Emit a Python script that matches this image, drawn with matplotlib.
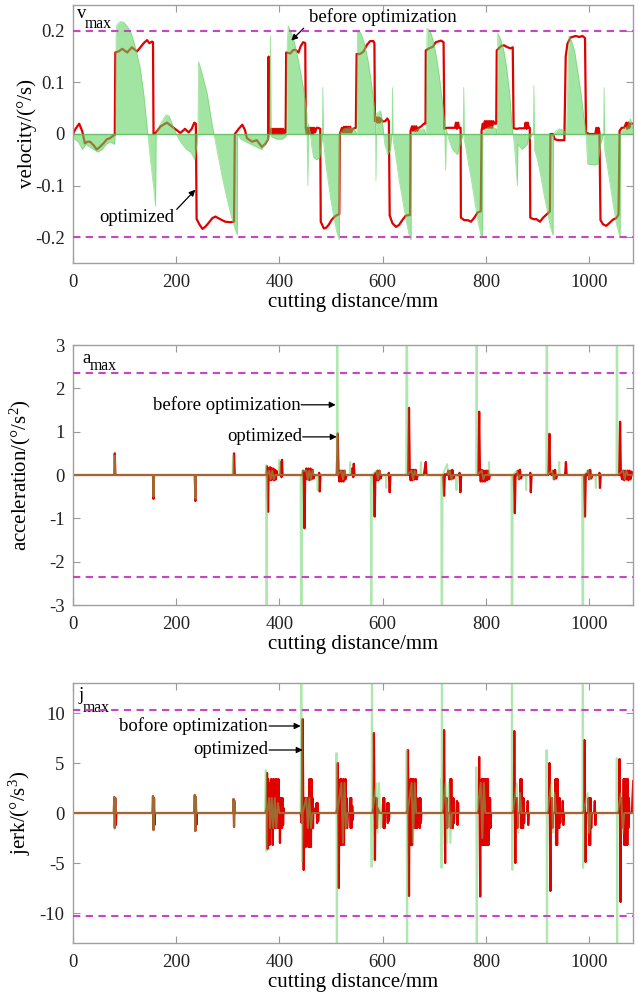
import matplotlib
matplotlib.use('Agg')
import numpy as np
import matplotlib.pyplot as plt

plt.rcParams['font.family'] = ['Liberation Serif', 'DejaVu Serif']
plt.rcParams['mathtext.fontset'] = 'custom'
plt.rcParams['mathtext.rm'] = 'Liberation Serif'
plt.rcParams['mathtext.it'] = 'Liberation Serif:italic'
plt.rcParams['axes.unicode_minus'] = False

# ---- velocity (deg/s) vs cutting distance (mm) ----
vel_opt = [
    (0, 0), (5, 0.01), (12, 0.02), (18, 0.005), (23, -0.018), (28, -0.015), (33, -0.015), (40, -0.022),
    (46, -0.03), (52, -0.025), (59, -0.018), (66, -0.01), (72, -0.008), (78, -0.003), (81, -0.002),
    (82, 0.158), (88, 0.16), (95.5, 0.165), (105, 0.158), (114, 0.168), (124, 0.16), (130.5, 0.168),
    (137, 0.176), (143.5, 0.182), (148, 0.176), (153, 0.179), (155, 0.178),
    (156, 0.0), (160, 0.002), (170, 0.015), (182, 0.022), (190, 0.016), (195, 0.012), (208, 0.002),
    (217, 0.01), (224, 0.003), (230, 0.01), (235, 0.022), (238, 0.02),
    (239.5, -0.165), (246, -0.177), (251, -0.184), (256, -0.18), (263, -0.172), (270, -0.163), (276, -0.16),
    (285, -0.165), (295, -0.17), (305, -0.171), (312, -0.17),
    (313.5, 0.0), (321, 0.01), (328, 0.018), (333, 0.008), (337, -0.008), (347, -0.015), (356, -0.012),
    (366, -0.025), (372, -0.02), (378, -0.01),
    (379, 0.15), (380, 0.0), (383, 0.01), (385, 0.0), (387, 0.01), (389, 0.0), (391, 0.01), (393, 0.0),
    (395, 0.01), (397, 0.0), (399, 0.01), (401, 0.0), (403, 0.01), (405, 0.0), (407, 0.01), (409, 0.002),
    (412, 0.003),
    (413, 0.158), (421, 0.156), (427, 0.163), (431, 0.163), (437, 0.158), (441, 0.17), (446, 0.178), (450, 0.176),
    (451, 0.012), (453, 0.0), (455, 0.012), (457, 0.0), (459, 0.012), (461, 0.0), (463, 0.012), (465, 0.0),
    (467, 0.012), (469, 0.003), (472, 0.012), (475, 0.012), (479, 0.01),
    (480, -0.17), (486, -0.183), (490, -0.182), (495.5, -0.176), (500, -0.168), (505, -0.162), (510, -0.158),
    (516, -0.155),
    (517, 0.0), (521, 0.012), (523, 0.003), (525, 0.014), (527, 0.003), (529, 0.014), (531, 0.003),
    (533, 0.014), (535, 0.003), (537, 0.014), (539, 0.003), (542, 0.01), (548, 0.012),
    (549.5, 0.155), (556, 0.155), (563, 0.16), (569, 0.172), (575.5, 0.18), (582, 0.18), (584, 0.176),
    (585, 0.025), (588, 0.032), (590, 0.022), (592, 0.032), (594, 0.022), (596, 0.03), (600, 0.024),
    (605, 0.025), (609, 0.03), (612, 0.025),
    (613.6, -0.158), (619, -0.173), (626, -0.18), (632, -0.176), (638.6, -0.166), (645, -0.158), (653, -0.157),
    (654, 0.006), (657, 0.015), (659, 0.006), (661, 0.015), (663, 0.006), (665, 0.015), (667, 0.006),
    (670, 0.012), (675, 0.015), (680, 0.02), (683, 0.02),
    (683.5, 0.162), (690, 0.166), (697, 0.169), (703, 0.178), (713, 0.181), (718, 0.178),
    (719.5, 0.01), (725, 0.012), (730, 0.012), (735, 0.012), (740, 0.012), (742, 0.022), (744, 0.01),
    (746, 0.022), (748, 0.012), (751, 0.012),
    (751.5, -0.162), (758, -0.167), (765, -0.167), (771, -0.17), (777.7, -0.162), (784, -0.152), (790, -0.15),
    (791.6, 0.006), (794, 0.02), (796, 0.01), (798, 0.025), (800, 0.012), (802, 0.025), (804, 0.012),
    (806, 0.025), (808, 0.012), (810, 0.025), (812, 0.012), (814, 0.025), (817, 0.02), (820, 0.02),
    (821, 0.162), (829, 0.17), (835, 0.172), (842, 0.168), (848, 0.166), (852, 0.168),
    (853.7, 0.011), (860, 0.01), (865, 0.011), (870, 0.011), (875, 0.011), (877, 0.022), (879, 0.01),
    (881, 0.022), (883, 0.012), (885, 0.012),
    (886, -0.162), (892, -0.165), (898, -0.165), (904.6, -0.17), (911, -0.162), (917.5, -0.156), (924, -0.15),
    (925, 0.0), (930, 0.0), (933, -0.01), (940, -0.012), (946, -0.012), (952, -0.012),
    (954.6, 0.15), (958, 0.175), (964, 0.187), (974, 0.19), (981, 0.188), (987, 0.19), (992, 0.186),
    (994, 0.003), (1000, 0.0), (1006, 0.0), (1012, 0.0), (1014, 0.012), (1016, 0.0), (1018, 0.012),
    (1020, 0.003),
    (1022, -0.167), (1027, -0.175), (1033, -0.178), (1040, -0.172), (1046, -0.166), (1052.5, -0.163),
    (1057, -0.156),
    (1059, 0.006), (1063, 0.012), (1068, 0.012), (1072, 0.022), (1074, 0.01), (1076, 0.022), (1078, 0.012),
    (1080, 0.02), (1085, 0.02),
]

vel_before = [
    (0, 0), (3, -0.01), (10, -0.015), (18, -0.03), (25, -0.02), (32, -0.025), (40, -0.03), (48, -0.035),
    (56, -0.03), (64, -0.02), (72, -0.015), (80, -0.02), (82, 0.0),
    (83.5, 0.19), (85, 0.212), (91.5, 0.218), (98, 0.217), (104, 0.21), (111, 0.2), (117.5, 0.18),
    (124, 0.155), (130.5, 0.126), (137, 0.078), (143.5, 0.014), (150, -0.05), (156.7, -0.108),
    (160, -0.14), (161, 0.0),
    (165, 0.01), (172, 0.025), (180, 0.037), (186, 0.035), (192, 0.02), (198, 0.005), (205, -0.01),
    (212, -0.02), (220, -0.03), (228, -0.035), (236, -0.05), (240, -0.02), (242, 0.0),
    (243.4, 0.14), (250, 0.117), (260, 0.078), (269.6, 0.018), (279.3, -0.032), (289, -0.083),
    (299, -0.128), (308.6, -0.167), (316, -0.19), (318.3, -0.195), (319, 0.0),
    (325, -0.01), (335, -0.015), (345, -0.02), (355, -0.025), (365, -0.03), (372, -0.02), (378, -0.01),
    (381, -0.005), (382.5, 0.19), (384, -0.005), (395, -0.01), (405, -0.01), (412, -0.005), (414, 0.0),
    (415, 0.17), (417, 0.21), (421, 0.2), (427, 0.185), (433, 0.16), (440, 0.125), (447, 0.085),
    (453, 0.04), (455, -0.1), (456, 0.02), (460, 0.0), (462, -0.02), (466, -0.045), (472, -0.05),
    (478, -0.045), (483, -0.01), (484, 0.09), (485, -0.01), (490, -0.06), (495, -0.095), (500, -0.13),
    (505, -0.16), (511, -0.19), (516, -0.205), (517, 0.0),
    (520, 0.005), (525, 0.01), (535, 0.012), (545, 0.01), (549, 0.0),
    (550, 0.0), (551, 0.2), (555, 0.2), (560, 0.19), (566, 0.17), (572, 0.14), (578, 0.1), (583, 0.06),
    (586, 0.03), (587, -0.09), (588, 0.04), (596, 0.045), (600, 0.02), (604, -0.02), (610, -0.04),
    (615, -0.03), (618, 0.0), (619, 0.09), (620, -0.01), (625, -0.04), (632, -0.09), (639, -0.13),
    (646, -0.17), (652, -0.2), (655, -0.205), (656, 0.0),
    (660, 0.005), (670, 0.01), (680, 0.01), (683, 0.0),
    (684, 0.0), (686, 0.205), (692, 0.2), (698, 0.18), (704, 0.15), (710, 0.11), (716, 0.06), (720, 0.02),
    (722, -0.07), (723, 0.01), (728, -0.01), (735, -0.03), (745, -0.04), (750, -0.02), (756, 0.0),
    (757, 0.09), (758, -0.01), (765, -0.05), (772, -0.09), (779, -0.135), (785, -0.17), (790, -0.195),
    (793, -0.2), (794, 0.0),
    (800, 0.01), (810, 0.015), (820, 0.01), (821, 0.0),
    (822, 0.0), (823, 0.195), (828, 0.185), (834, 0.165), (840, 0.13), (846, 0.078), (851, 0.01),
    (855, -0.02), (861, -0.1), (862, -0.02), (870, -0.03), (880, -0.02), (884, 0.0), (885, -0.01),
    (892, 0.005), (893, 0.094), (894, -0.03), (900, -0.05), (906, -0.08), (913, -0.12), (919, -0.15),
    (925, -0.18), (930, -0.196), (931, 0.0),
    (935, 0.005), (942, 0.01), (950, 0.008), (955, 0.0),
    (956, 0.0), (961, 0.19), (966, 0.18), (972, 0.16), (978, 0.12), (984, 0.08), (990, 0.03), (994, 0.005),
    (997, -0.058), (1010, -0.06), (1017, -0.058), (1022, -0.02), (1028, 0.0), (1029, 0.09), (1030, -0.03),
    (1035, -0.06), (1041, -0.1), (1047, -0.14), (1053, -0.175), (1060, -0.2), (1061, 0.0),
    (1065, 0.01), (1075, 0.015), (1080, 0.03), (1085, 0.01),
]

# ---- acceleration (deg/s^2) ----
acc_opt = [
    (0, 0), (80, 0), (81, 0.5), (82, 0), (155, 0), (156, -0.55), (157, 0), (236, 0), (237, -0.6), (238, 0),
    (311, 0), (312, 0.5), (313.5, 0),
    (375, 0), (376, 0.2), (377, -0.1), (378, -0.85), (379, 0.15), (381, -0.1), (382, 0.18), (384, -0.12),
    (385, 0.15), (387, -0.1), (388, 0.15), (390, -0.12), (391, 0.12), (393, -0.1), (394, 0.1), (396, 0),
    (402, 0), (403, 0.3), (404, -0.05), (405, 0.35), (406, 0),
    (445, 0), (446, 0.1), (447, -0.2), (448.5, -1.23), (450, 0.05), (452, 0.15), (454, -0.1), (456, 0.15),
    (458, -0.12), (460, 0.15), (462, -0.1), (464, 0.12), (466, -0.08), (468, 0), (476, 0), (477, 0.05),
    (478, -0.38), (479.5, 0),
    (511, 0), (513, 0.96), (514.5, 0.05), (516, -0.15), (518, 0.1), (520, -0.15), (522, 0.1), (524, -0.15),
    (526, 0.1), (528, -0.1), (530, 0), (540, 0), (541, 0.15), (543, -0.05), (544, 0.26), (545.5, 0),
    (582, 0), (583, -0.05), (584.5, -0.96), (586, 0.05), (588, -0.12), (590, 0.1), (592, -0.12), (594, 0.1),
    (596, -0.08), (598, 0), (611, 0), (612, 0.05), (613.6, -0.4), (615, 0),
    (649, 0), (651, 1.55), (652.5, 0.05), (654, -0.12), (656, 0.12), (658, -0.12), (660, 0.12), (662, -0.1),
    (664, 0.12), (666, -0.1), (668, 0), (680, 0), (681, 0.1), (683.5, 0.3), (685, 0),
    (717, 0), (719, -0.48), (720.5, 0.02), (725, 0), (727, 0.1), (729, -0.1), (731, 0.1), (733, -0.1),
    (735, 0.12), (737, -0.08), (739, 0), (748, 0), (749, 0.05), (750.5, -0.4), (752, 0),
    (785, 0), (787, 1.46), (788.5, 0.05), (790, -0.15), (792, 0.12), (794, -0.15), (796, 0.1), (798, -0.15),
    (800, 0.1), (802, -0.12), (804, 0.1), (806, -0.1), (808, 0),
    (854, 0), (856, -0.88), (857.5, 0.02), (860, 0), (862, 0.1), (864, -0.1), (866, 0.12), (868, -0.08),
    (870, 0), (885, 0), (886, 0.05), (887, -0.4), (888.5, 0),
    (921, 0), (923, 0.95), (924.5, 0.02), (928, 0), (930, 0.1), (932, -0.1), (934, 0.12), (936, -0.08),
    (938, 0), (953, 0), (954, 0.1), (955, 0.3), (956.5, 0),
    (990, 0), (992, -0.96), (993.5, 0.02), (996, 0), (998, 0.1), (1000, -0.1), (1002, 0.12), (1004, -0.08),
    (1006, 0), (1019, 0), (1020, 0.05), (1021, -0.3), (1022.5, 0),
    (1058, 0), (1060, 1.23), (1061.5, 0.02), (1064, -0.1), (1066, 0.1), (1068, -0.12), (1070, 0.1),
    (1072, -0.1), (1074, 0.1), (1076, -0.12), (1078, 0.1), (1080, -0.1), (1082, 0.08), (1085, 0),
]

acc_before = [
    (0, 0), (80, 0), (81, 0.45), (82, 0), (155, 0), (156, -0.5), (157, 0), (236, 0), (237, -0.55), (238, 0),
    (309, 0), (310, 0.45), (311, 0),
    (373, 0), (374, 0.23), (375, -8), (376, 0), (380, 0.1), (383, -0.1), (386, 0.1), (389, -0.1), (392, 0),
    (399, 0), (400, 0.35), (401, 0),
    (441, 0), (442.7, -8), (444, 0.1), (452, 0.1), (455, -0.1), (458, 0.1), (461, -0.1), (464, 0.1),
    (467, 0), (473, 0), (474, -0.35), (475, 0),
    (511, 0), (512, 8), (513, 0), (520, 0.1), (523, -0.1), (526, 0.1), (529, 0), (536, 0), (537, 0.3), (538, 0),
    (577, 0), (578, -8), (579, 0), (588, 0.1), (591, -0.1), (594, 0.1), (597, 0), (606, 0), (607, -0.3), (608, 0),
    (645.5, 0), (646.6, 8), (648, 0), (656, 0.1), (659, -0.1), (662, 0.1), (665, 0), (673, 0), (674, 0.3),
    (675, 0),
    (713.5, 0), (714.6, -8), (716, 0), (725, 0.25), (727, 0), (730, 0.1), (733, -0.1), (736, 0), (742, 0),
    (743, -0.35), (744, 0),
    (781, 0), (782, 8), (783, 0), (792, 0.1), (795, -0.1), (798, 0), (805, 0), (806, 0.3), (807, 0),
    (849.5, 0), (850.5, -8), (852, 0), (860, 0.1), (863, -0.1), (866, 0), (877, 0), (878, -0.35), (879, 0),
    (917, 0), (918, 8), (919, 0), (928, 0.1), (931, -0.1), (934, 0), (941, 0), (942, 0.3), (943, 0),
    (986.5, 0), (987.7, -8), (989, 0), (998, 0.1), (1001, -0.1), (1004, 0), (1012, 0), (1013, -0.3), (1014, 0),
    (1053, 0), (1054, 8), (1055, 0), (1066, 0.1), (1069, -0.1), (1072, 0.1), (1075, 0), (1085, 0),
]

# ---- jerk (deg/s^3) ----
jerk_opt = [
    (0, 0), (79, 0), (80, 1.6), (81, -1.5), (82, 1.5), (83, -1.2), (84, 0),
    (154, 0), (155, 1.7), (156, -1.7), (157, 1.5), (158, -1.2), (159, 0),
    (235, 0), (236, 1.8), (237, -1.8), (238, 1.6), (239, -1.2), (240, 0),
    (310, 0), (311, 1.4), (312, -1.4), (313, 1.2), (314, 0),
    (373, 0), (375, 0.5), (376, 4.0), (377, -3.6), (378, 3.4), (379, -1.5), (380, 3.0), (381, -3.2),
    (382, 1.5), (383, -1.5), (384, 3.4), (385, -1.5), (386, 1.5), (387, -3.2), (388, 3.4), (389, -1.5),
    (390, 1.5), (391, -1.5), (392, 3.4), (393, -1.5), (394, 3.4), (395, -1.5), (396, 1.5), (397, -1.5),
    (398, 3.4), (399, -1.5), (400, 1.5), (401, -3.0), (402, 1.5), (403, -1.5), (404, 1.5), (405, -1.5),
    (406, 1.5), (407, -1.2), (408, 0.5), (409, 0),
    (441, 0), (443, -1.0), (445, 9.4), (447, -5.7), (448, 1.5), (449, -1.5), (450, 1.5), (451, -3.4),
    (452, 1.5), (454, -1.5), (455, 1.5), (456, -3.4), (458, 3.4), (459, -3.4), (460, 3.4), (461, -3.4),
    (462, 3.4), (463, -1.5), (464, 1.5), (465, -1.5), (466, 0.5), (470, 0), (472, 1.0), (473, -1.0),
    (474, 1.0), (475, -0.8), (476, 0),
    (510, 0), (512, 0.5), (513, 5.0), (515, -7.5), (516, 1.5), (517, -1.5), (518, 3.4), (519, -3.2),
    (520, 3.4), (521, -3.2), (522, 1.5), (523, -1.5), (524, 3.4), (525, -3.2), (526, 1.5), (527, -1.5),
    (528, 3.4), (529, -1.5), (530, 1.5), (531, -1.5), (533, 0), (536, 0), (537, 1.5), (538, -1.5),
    (539, 1.5), (540, -1.5), (541, 0.7), (542, -0.7), (543, 0),
    (580, 0), (582, 0.5), (583, 8.0), (585, -4.7), (586, 1.5), (587, -1.5), (588, 1.5), (589, -1.5),
    (590, 0.5), (594, 0), (600, 0), (601, 1.5), (602, -1.5), (603, 1.5), (604, -1.5), (605, 0), (608, 0),
    (609, 1.0), (610, -1.0), (611, 1.0), (612, -0.8), (613, 0),
    (646, 0), (648, 0.3), (649, 6.3), (651, -8.3), (652, 1.5), (653, -1.5), (654, 3.4), (655, -3.2),
    (656, 3.4), (657, -3.2), (658, 3.4), (659, -1.5), (660, 3.4), (661, -1.5), (662, 1.5), (663, -1.5),
    (664, 3.4), (665, -1.5), (666, 1.5), (667, -1.5), (668, 0), (670, 0), (671, 1.5), (672, -1.5),
    (673, 1.5), (674, -1.0), (675, 0),
    (716, 0), (718, 0.3), (719, 8.3), (721, -5.0), (722, 1.5), (723, -1.5), (724, 1.5), (725, -1.5),
    (726, 0), (730, 0), (731, 3.4), (732, -1.5), (733, 3.4), (734, -1.5), (735, 1.5), (736, -1.5),
    (737, 1.5), (738, -1.0), (739, 0), (743, 0), (744, 1.2), (745, -1.2), (746, 1.0), (747, 0),
    (784, 0), (786, 0.3), (787, 5.6), (789, -8.35), (790, 1.5), (791, -1.5), (792, 3.4), (793, -3.2),
    (794, 3.4), (795, -3.2), (796, 3.4), (797, -3.2), (798, 3.4), (799, -3.2), (800, 3.4), (801, -3.2),
    (802, 3.4), (803, -3.2), (804, 3.4), (805, -3.2), (806, 1.5), (807, -1.5), (808, 1.5), (809, -1.5),
    (810, 0),
    (852, 0), (854, 0.3), (855, 8.2), (857, -5.0), (858, 1.5), (859, -1.5), (860, 1.5), (861, -1.5),
    (862, 0), (866, 0), (867, 3.4), (868, -1.5), (869, 3.4), (870, -1.5), (871, 1.5), (872, -1.5),
    (873, 1.5), (874, -1.0), (875, 0), (880, 0), (881, 1.2), (882, -1.2), (883, 0),
    (920, 0), (922, 0.3), (923, 5.0), (925, -7.8), (926, 1.5), (927, -1.5), (928, 1.5), (929, -1.5),
    (930, 0), (934, 0), (935, 3.4), (936, -3.2), (937, 3.4), (938, -3.2), (939, 3.4), (940, -1.5),
    (941, 1.5), (942, -1.5), (943, 1.5), (944, -1.0), (945, 0), (948, 0), (949, 1.2), (950, -1.2), (951, 0),
    (988, 0), (990, 0.3), (991, 7.3), (993, -4.9), (994, 0), (998, 0), (999, 1.5), (1000, -3.2),
    (1001, 1.5), (1002, -3.2), (1003, 1.5), (1004, -1.5), (1005, 0), (1010, 0), (1011, 1.2), (1012, -1.2),
    (1013, 0),
    (1056, 0), (1058, 0.3), (1059, 5.4), (1061, -8.9), (1062, 1.5), (1063, -1.5), (1064, 0), (1066, 0),
    (1067, 3.4), (1068, -3.2), (1069, 3.4), (1070, -3.2), (1071, 3.4), (1072, -3.2), (1073, 3.4),
    (1074, -3.2), (1075, 3.4), (1076, -1.5), (1077, 1.5), (1078, 0), (1083, 0), (1084, 1.5), (1085.5, 3.2),
]

jerk_before = [
    (0, 0), (79, 0), (80, 1.6), (81, -1.6), (82, 1.5), (83, 0), (154, 0), (155, 1.7), (156, -1.7), (157, 1.5),
    (158, 0), (235, 0), (236, 1.8), (237, -1.8), (238, 1.6), (239, 0), (310, 0), (311, 1.4), (312, -1.4),
    (313, 1.2), (314, 0),
    (372, 0), (373.5, 4.3), (374.5, -3.8), (376, 0), (380, 1.5), (382, -1.5), (385, 1.5), (388, -1.5),
    (391, 1.5), (394, -1.5), (397, 1.0), (400, 0),
    (441, 0), (442.7, 30), (443.5, -4.9), (445, 0), (452, 1.5), (455, -1.5), (458, 1.5), (461, -1.5), (464, 0),
    (510, 0), (510.5, 6.0), (511.2, -30), (512, 0), (520, 3.0), (523, -3.0), (526, 3.0), (529, -1.5), (532, 0),
    (578, 0), (578.5, -5.4), (579.2, 30), (580, 0), (588, 3.0), (590, -2.0), (593, 3.0), (596, -1.5), (599, 0),
    (646, 0), (646.5, 6.3), (647.2, -30), (648, 0), (656, 3.0), (659, -3.0), (662, 3.0), (665, 0),
    (713, 0), (713.5, 3.4), (714, -5.5), (714.8, 30), (715.5, 0), (722, 3.0), (725, -3.0), (728, 3.0),
    (731, -3.0), (734, 0),
    (781, 0), (781.5, 4.6), (782.2, -30), (783, 0), (790, 3.0), (793, -2.5), (796, 3.0), (799, 0),
    (850, 0), (850.5, 30), (851.2, -5.7), (852, 0), (860, 3.0), (863, -2.0), (866, 2.0), (869, 0),
    (917, 0), (917.5, 6.3), (918.3, -30), (919, 0), (927, 3.0), (930, -2.0), (933, 2.0), (936, 0),
    (987, 0), (987.7, 30), (988.5, -5.5), (989, 0), (997, 2.0), (1000, -2.0), (1003, 0),
    (1053, 0), (1053.5, 5.5), (1054.3, -30), (1055, 0), (1062, 2.0), (1065, -2.0), (1068, 0), (1085, 0),
]

v_max = 0.2
a_max = 2.35
j_max = 10.3
x_ticks = [0, 200, 400, 600, 800, 1000]

RED = '#e00000'
GREEN = '#5fd35f'
MAGENTA = '#c845c8'
FS_TICK = 13.5
FS_SUB = 11.3
FS_LABEL = 15


def setup(ax, ylim, yticks, ylabel, label_x):
    ax.set_xlim(0, 1085)
    ax.set_ylim(*ylim)
    ax.set_xticks(x_ticks)
    ax.set_yticks(yticks)
    ax.tick_params(direction='in', top=True, right=True, length=5, color='#999999',
                   labelsize=FS_TICK, labelcolor='#222222')
    ax.tick_params(axis='x', pad=8)
    ax.tick_params(axis='y', pad=6)
    for s in ax.spines.values():
        s.set_color('#a0a0a0')
        s.set_linewidth(1.0)
    ax.set_xlabel('cutting distance/mm', fontsize=FS_LABEL)
    ax.xaxis.set_label_coords(0.5, -0.115)
    ax.set_ylabel(ylabel, fontsize=FS_LABEL)
    ax.yaxis.set_label_coords(label_x, 0.5)


def draw(ax, opt, before, limit, fill=False):
    ox, oy = np.array(opt).T
    bx, by = np.array(before).T
    ax.plot(ox, oy, color=RED, lw=1.6, zorder=2)
    if fill:
        ax.fill_between(bx, 0, by, color=GREEN, alpha=0.58, lw=0, zorder=3)
        ax.plot(bx, by, color=GREEN, lw=0.6, alpha=0.6, zorder=3)
        ax.axhline(0, color='#55b855', lw=1.0, alpha=0.8, zorder=3)
    else:
        ax.plot(bx, by, color=GREEN, lw=1.4, alpha=0.5, zorder=3)
    for lv in (limit, -limit):
        ax.axhline(lv, color=MAGENTA, lw=1.5, ls=(0, (3.5, 2.6)), zorder=4)


def limit_label(ax, letter, pos, sub_pos):
    ax.text(pos[0], pos[1], letter, transform=ax.transAxes, va='baseline', ha='left', fontsize=FS_TICK)
    ax.text(sub_pos[0], sub_pos[1], 'max', transform=ax.transAxes, va='baseline', ha='left', fontsize=FS_SUB)


def arrow(ax, tail, head):
    ax.annotate('', xy=head, xytext=tail,
                arrowprops=dict(arrowstyle='-|>', color='black', lw=0.9,
                                mutation_scale=9, shrinkA=0, shrinkB=0))


fig = plt.figure(figsize=(6.38, 9.98), dpi=100)
W, H = 638, 998
L, R = 73, 633

ax1 = fig.add_axes([L / W, (H - 263) / H, (R - L) / W, 258 / H])
ax2 = fig.add_axes([L / W, (H - 605) / H, (R - L) / W, 260 / H])
ax3 = fig.add_axes([L / W, (H - 943) / H, (R - L) / W, 260 / H])

# velocity panel
draw(ax1, vel_opt, vel_before, v_max, fill=True)
setup(ax1, (-0.25, 0.25), [-0.2, -0.1, 0, 0.1, 0.2], 'velocity/(°/s)', -0.064)
ax1.set_yticklabels(['-0.2', '-0.1', '0', '0.1', '0.2'])
limit_label(ax1, 'v', (0.007, 0.95), (0.021, 0.911))
ax1.text(458, 0.226, 'before optimization', fontsize=FS_TICK, va='center', ha='left')
arrow(ax1, (447, 0.205), (423, 0.181))
ax1.text(123, -0.162, 'optimized', fontsize=FS_TICK, va='center', ha='center')
arrow(ax1, (201, -0.146), (237, -0.108))

# acceleration panel
draw(ax2, acc_opt, acc_before, a_max)
setup(ax2, (-3, 3), [-3, -2, -1, 0, 1, 2, 3], 'acceleration/(°/s$^2$)', -0.071)
limit_label(ax2, 'a', (0.016, 0.931), (0.030, 0.904))
ax2.text(441, 1.62, 'before optimization', fontsize=FS_TICK, va='center', ha='right')
arrow(ax2, (442, 1.62), (509, 1.62))
ax2.text(444, 0.88, 'optimized', fontsize=FS_TICK, va='center', ha='right')
arrow(ax2, (445, 0.88), (511, 0.88))

# jerk panel
draw(ax3, jerk_opt, jerk_before, j_max)
setup(ax3, (-13, 13), [-10, -5, 0, 5, 10], 'jerk/(°/s$^3$)', -0.071)
limit_label(ax3, 'j', (0.009, 0.935), (0.018, 0.89))
ax3.text(378, 8.7, 'bofore optimization', fontsize=FS_TICK, va='center', ha='right')
arrow(ax3, (380, 8.7), (441, 8.7))
ax3.text(378, 6.3, 'optimized', fontsize=FS_TICK, va='center', ha='right')
arrow(ax3, (380, 6.3), (445, 6.3))

fig.savefig('out.png', dpi=100)
